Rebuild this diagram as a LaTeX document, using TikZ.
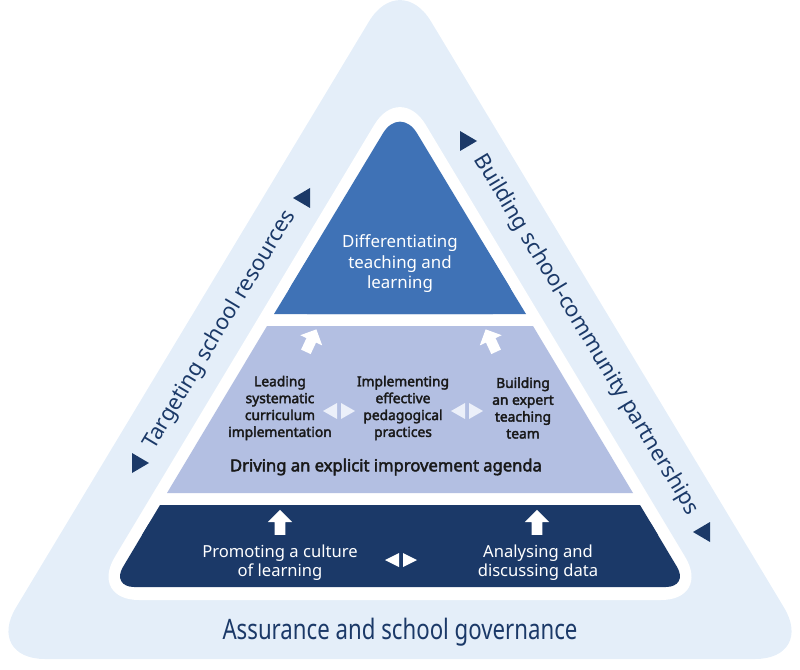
\documentclass[tikz,border=0pt]{standalone}
\usepackage{fontspec}
\setmainfont{Noto Sans}
\newfontfamily\heavyfont{Noto Sans}[FakeBold=2.6]
\usepackage{graphicx}
\usetikzlibrary{calc,shapes.arrows}
\definecolor{PaleSky}{RGB}{228,238,249}
\definecolor{Navy}{RGB}{27,57,104}
\definecolor{MidBlue}{RGB}{63,114,182}
\definecolor{Lavender}{RGB}{179,191,226}
\definecolor{Mist}{RGB}{236,240,250}
\tikzset{
  toptext/.style={text=white, align=center, inner sep=0pt,
    font=\fontsize{12}{14.6}\selectfont},
  midtext/.style={text=black!90, align=center, inner sep=0pt,
    font=\heavyfont\fontsize{9.8}{12}\selectfont},
  drivetext/.style={text=black!90, inner sep=0pt,
    font=\heavyfont\fontsize{11.8}{13}\selectfont},
  basetext/.style={text=white, align=center, inner sep=0pt,
    font=\fontsize{11.8}{13.4}\selectfont},
  sidetext/.style={text=Navy, inner sep=0pt,
    font=\fontsize{15.5}{18}\selectfont},
  govtext/.style={text=Navy, inner sep=0pt,
    font=\fontsize{20}{24}\selectfont},
  uparrow/.style={single arrow, fill=white, inner sep=0.125cm,
    single arrow head extend=0.17cm, minimum height=0.62cm}
}

\begin{document}
\begin{tikzpicture}[x=0.025cm, y=-0.025cm]
  \useasboundingbox (0,0) rectangle (800,669);
  % outer band and white margin
  \fill[PaleSky, rounded corners=1.5cm] (400,-30) -- (815,659) -- (-15,659) -- cycle;
  \fill[white, rounded corners=1.25cm] (400,82) -- (711,600) -- (89,600) -- cycle;
  % top tier
  \fill[MidBlue, rounded corners=0.83cm] (400,105) -- (526,314) -- (274,314) -- cycle;
  \fill[MidBlue] (313,250) -- (487,250) -- (526,314) -- (274,314) -- cycle;
  % middle tier
  \fill[Lavender] (267,326) -- (533,326) -- (633,493) -- (167,493) -- cycle;
  % bottom tier
  \fill[Navy, rounded corners=0.58cm] (160,505) -- (640,505) -- (689,587) -- (111,587) -- cycle;
  \fill[Navy] (160,505) -- (640,505) -- (658,535) -- (142,535) -- cycle;

  \node[toptext] (diff) at (400,264) {Differentiating\\teaching and\\learning};
  \node[midtext] (lead) at (280,408) {Leading\\systematic\\curriculum\\implementation};
  \node[midtext] (impl) at (403,408) {Implementing\\effective\\pedagogical\\practices};
  \node[midtext] (expert) at (523,408) {Building\\an expert\\teaching\\team};
  \node[drivetext] (drive) at (386,467) {Driving an explicit improvement agenda};
  \node[basetext] (promo) at (280,563) {Promoting a culture\\of learning};
  \node[basetext] (data) at (538,563) {Analysing and\\discussing data};
  \node[govtext] (gov) at (400,632) {\scalebox{0.79}[1]{Assurance and school governance}};
  \node[sidetext, rotate=59] (res) at (220,330) {Targeting school resources};
  \node[sidetext, rotate=-59] (comm) at (586,335) {Building school-community partnerships};

  % arrows between tiers
  \node[uparrow, rotate=90] (upA) at (280,525) {};
  \node[uparrow, rotate=90] (upB) at (537,525) {};
  \node[uparrow, rotate=65] (upC) at (310,343) {};
  \node[uparrow, rotate=115] (upD) at (492,343) {};

  % two-way markers
  \coordinate (pairA) at (339,411);
  \coordinate (pairB) at (467,411);
  \coordinate (pairC) at (401,560);
  \fill[Mist] ($(pairA)+(-16,0)$) -- ++(14,-8) -- ++(0,16) -- cycle;
  \fill[Mist] ($(pairA)+(16,0)$) -- ++(-14,-8) -- ++(0,16) -- cycle;
  \fill[Mist] ($(pairB)+(-16,0)$) -- ++(14,-8) -- ++(0,16) -- cycle;
  \fill[Mist] ($(pairB)+(16,0)$) -- ++(-14,-8) -- ++(0,16) -- cycle;
  \fill[white] ($(pairC)+(-16,0)$) -- ++(14,-7) -- ++(0,14) -- cycle;
  \fill[white] ($(pairC)+(16,0)$) -- ++(-14,-7) -- ++(0,14) -- cycle;

  % side markers
  \coordinate (resA) at (140,463);
  \coordinate (resB) at (302,198);
  \coordinate (commA) at (468,141);
  \coordinate (commB) at (702,532);
  \fill[Navy] ($(resA)+(-8,-10)$) -- ++(17,10) -- ++(-17,10) -- cycle;
  \fill[Navy] ($(resB)+(8,-10)$) -- ++(-17,10) -- ++(17,10) -- cycle;
  \fill[Navy] ($(commA)+(-8,-10)$) -- ++(17,10) -- ++(-17,10) -- cycle;
  \fill[Navy] ($(commB)+(8,-10)$) -- ++(-17,10) -- ++(17,10) -- cycle;
\end{tikzpicture}
\end{document}
